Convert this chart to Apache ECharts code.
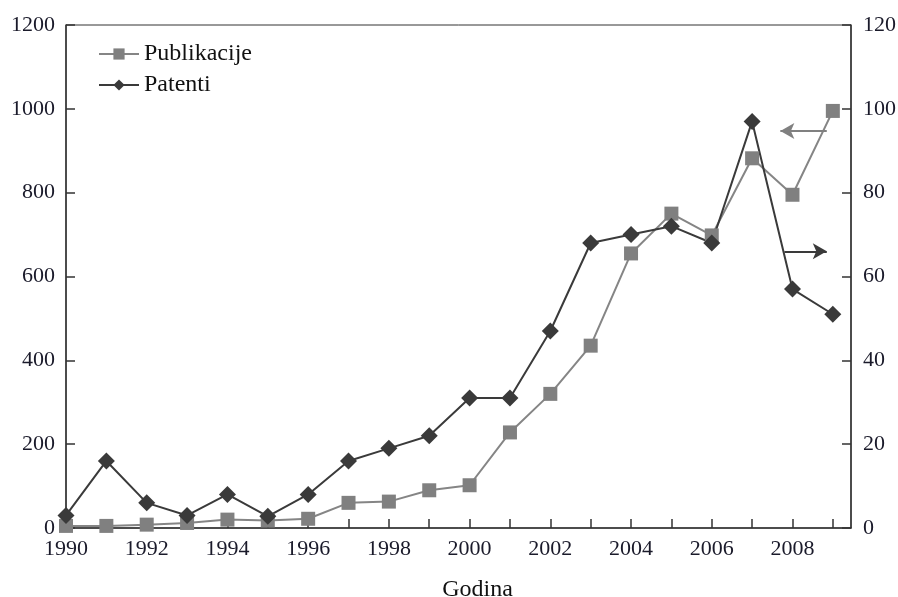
<!DOCTYPE html>
<html>
<head>
<meta charset="utf-8">
<script src="https://cdn.jsdelivr.net/npm/echarts@6/dist/echarts.min.js"></script>
<style>
  html, body { margin: 0; padding: 0; background: #fff; }
  #chart { width: 898px; height: 597px; }
</style>
</head>
<body>
<div id="chart"></div>
<script>
// godine (x os)
const years = [1990, 1991, 1992, 1993, 1994, 1995, 1996, 1997, 1998, 1999,
               2000, 2001, 2002, 2003, 2004, 2005, 2006, 2007, 2008, 2009]
// Publikacije - lijeva os
const publikacije = [5, 5, 8, 12, 20, 18, 22, 60, 63, 90,
                     102, 228, 320, 435, 655, 750, 698, 882, 795, 995]
// Patenti - desna os
const patenti = [3, 16, 6, 3, 8, 2.8, 8, 16, 19, 22,
                 31, 31, 47, 68, 70, 72, 68, 97, 57, 51]

const leftTicks = [0, 200, 400, 600, 800, 1000, 1200]
const rightTicks = [0, 20, 40, 60, 80, 100, 120]

const font = 'Liberation Serif'
const textColor = '#1a1a2a'

const chart = echarts.init(document.getElementById('chart'))

const pair = (vals) => years.map((y, i) => [y, vals[i]])

const option = {
    animation: false,
    backgroundColor: '#fff',
    textStyle: { fontFamily: font },
    grid: {
        left: 66,
        right: 47,
        top: 25,
        bottom: 69,
        outerBoundsMode: 'none',
        containLabel: false,
        show: true,
        borderColor: '#333',
        borderWidth: 1
    },
    legend: {
        orient: 'vertical',
        left: 93,
        top: 37,
        itemWidth: 40,
        itemHeight: 14,
        itemGap: 7,
        textStyle: { fontFamily: font, fontSize: 24, lineHeight: 24, color: '#111' },
        data: ['Publikacije', 'Patenti']
    },
    xAxis: {
        type: 'value',
        min: 1990,
        max: 2009.45,
        interval: 1,
        name: 'Godina',
        nameLocation: 'middle',
        nameGap: 50,
        nameTextStyle: { fontFamily: font, fontSize: 24, color: '#111', padding: [0, 0, 0, 38] },
        splitLine: { show: false },
        axisLine: { lineStyle: { color: '#333', width: 1.5 } },
        axisTick: { inside: true, length: 9, lineStyle: { color: '#333', width: 1.5 } },
        axisLabel: {
            fontFamily: font,
            fontSize: 22,
            color: textColor,
            margin: 10,
            showMaxLabel: false,
            formatter: (v) => (v % 2 === 0 ? String(v) : '')
        }
    },
    yAxis: [
        {
            type: 'value',
            min: leftTicks[0],
            max: leftTicks[leftTicks.length - 1],
            interval: 200,
            splitLine: { show: false },
            axisLine: { show: true, lineStyle: { color: '#333', width: 1.5 } },
            axisTick: { inside: true, length: 9, lineStyle: { color: '#333', width: 1.5 } },
            axisLabel: { fontFamily: font, fontSize: 22, color: textColor, margin: 11, formatter: (v) => String(v) }
        },
        {
            type: 'value',
            position: 'right',
            min: rightTicks[0],
            max: rightTicks[rightTicks.length - 1],
            interval: 20,
            splitLine: { show: false },
            axisLine: { show: true, lineStyle: { color: '#333', width: 1.5 } },
            axisTick: { inside: true, length: 9, lineStyle: { color: '#333', width: 1.5 } },
            axisLabel: { fontFamily: font, fontSize: 22, color: textColor, margin: 12, formatter: (v) => String(v) }
        }
    ],
    series: [
        {
            name: 'Publikacije',
            type: 'line',
            yAxisIndex: 0,
            data: pair(publikacije),
            symbol: 'rect',
            symbolSize: 14,
            lineStyle: { color: '#858585', width: 2 },
            itemStyle: { color: '#808080' },
            markLine: {
                silent: true,
                symbol: ['none', 'arrow'],
                symbolSize: [12, 14],
                label: { show: false },
                lineStyle: { color: '#808080', width: 2, type: 'solid' },
                data: [[{ coord: [2008.85, 947] }, { coord: [2007.7, 947] }]]
            }
        },
        {
            name: 'Patenti',
            type: 'line',
            yAxisIndex: 1,
            data: pair(patenti),
            symbol: 'diamond',
            symbolSize: 17,
            lineStyle: { color: '#3a3a3a', width: 2 },
            itemStyle: { color: '#3a3a3a' },
            markLine: {
                silent: true,
                symbol: ['none', 'arrow'],
                symbolSize: [12, 14],
                label: { show: false },
                lineStyle: { color: '#3a3a3a', width: 2, type: 'solid' },
                data: [[{ coord: [2007.8, 66] }, { coord: [2008.85, 66] }]]
            }
        }
    ]
}

chart.setOption(option)
</script>
</body>
</html>
